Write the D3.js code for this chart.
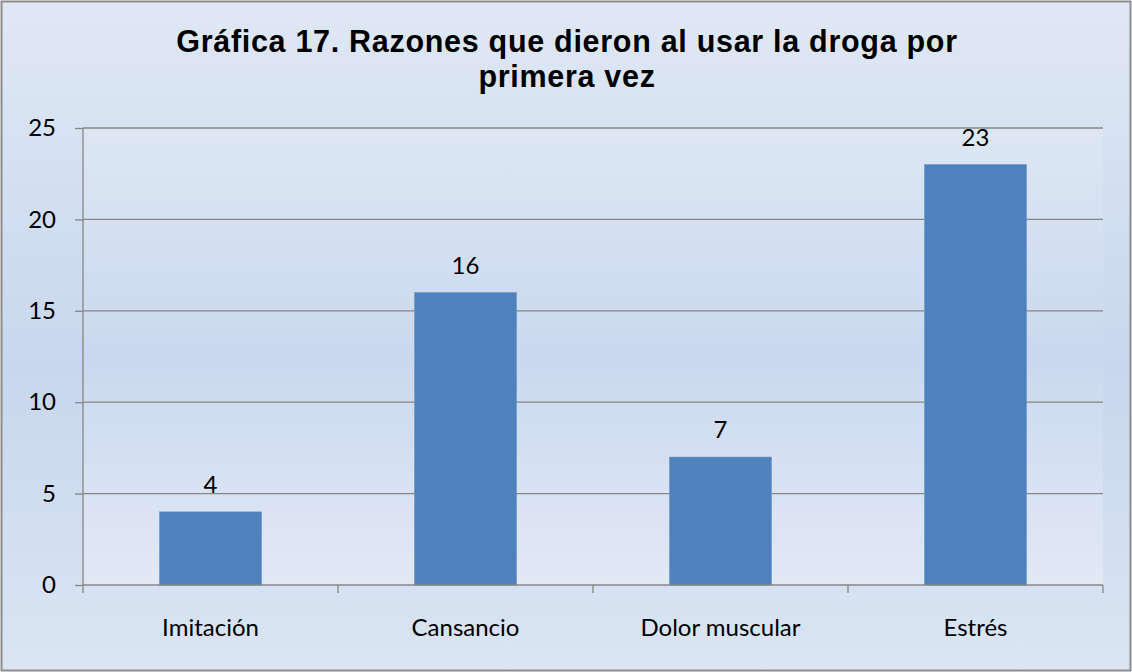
<!DOCTYPE html>
<html><head><meta charset="utf-8">
<script src="https://cdn.jsdelivr.net/npm/d3@7"></script>
<style>body{margin:0;background:#fff}svg{display:block}</style>
</head><body>
<script>
const categories = ["Imitación", "Cansancio", "Dolor muscular", "Estrés"];
const values = [4, 16, 7, 23];
const yTicks = [0, 5, 10, 15, 20, 25];
const titleLines = ["Gráfica 17. Razones que dieron al usar la droga por", "primera vez"];

const W = 1132, H = 672;
const m = {left: 83, right: 29, top: 128, bottom: 87};
const FONT = "Lato, 'Open Sans', sans-serif";
const svg = d3.select("body").append("svg").attr("width", W).attr("height", H);
const defs = svg.append("defs");
const g1 = defs.append("linearGradient").attr("id", "bg").attr("x1", 0).attr("y1", 0).attr("x2", 0).attr("y2", 1);
g1.append("stop").attr("offset", "0%").attr("stop-color", "#dfe8f4");
g1.append("stop").attr("offset", "55%").attr("stop-color", "#c8d7ee");
g1.append("stop").attr("offset", "100%").attr("stop-color", "#dbe5f2");
const g2 = defs.append("linearGradient").attr("id", "pbg").attr("x1", 0).attr("y1", 0).attr("x2", 0).attr("y2", 1);
g2.append("stop").attr("offset", "0%").attr("stop-color", "#dde7f3");
g2.append("stop").attr("offset", "50%").attr("stop-color", "#cad8ef");
g2.append("stop").attr("offset", "100%").attr("stop-color", "#e1e9f5");

svg.append("rect").attr("x", 1.5).attr("y", 1.5).attr("width", W - 3).attr("height", H - 3)
  .attr("fill", "url(#bg)").attr("stroke", "#8c8c8c").attr("stroke-width", 2);

const pw = W - m.left - m.right, ph = H - m.top - m.bottom;
const x = d3.scaleBand().domain(categories).range([m.left, m.left + pw]).paddingInner(0.6).paddingOuter(0.3);
const xb = d3.scaleBand().domain(categories).range([m.left, m.left + pw]);
const y = d3.scaleLinear().domain([0, 25]).range([m.top + ph, m.top]);

svg.append("rect").attr("x", m.left).attr("y", m.top).attr("width", pw).attr("height", ph).attr("fill", "url(#pbg)");

// gridlines
svg.append("g").selectAll("line").data(yTicks.filter(d => d > 0)).join("line")
  .attr("x1", m.left).attr("x2", m.left + pw).attr("y1", d => y(d)).attr("y2", d => y(d))
  .attr("stroke", "#868686").attr("stroke-width", 1.3);

// bars
svg.append("g").selectAll("rect").data(values).join("rect")
  .attr("x", (d, i) => x(categories[i])).attr("width", x.bandwidth())
  .attr("y", d => y(d)).attr("height", d => y(0) - y(d))
  .attr("fill", "#4f81bd").attr("stroke", "#6a95c8").attr("stroke-width", 0.6);

// value labels
svg.append("g").selectAll("text").data(values).join("text")
  .attr("x", (d, i) => x(categories[i]) + x.bandwidth() / 2).attr("y", d => y(d) - 19)
  .attr("text-anchor", "middle").attr("font-family", FONT).attr("font-size", 24)
  .attr("fill", "#000").text(d => d);

// y axis
const yAxis = d3.axisLeft(y).tickValues(yTicks).tickSize(8).tickPadding(19);
const ya = svg.append("g").attr("transform", `translate(${m.left},0)`).call(yAxis);
ya.select(".domain").attr("stroke", "#868686").attr("stroke-width", 1.3).attr("d", `M0,${m.top}V${m.top + ph}`);
ya.selectAll(".tick line").attr("stroke", "#868686").attr("stroke-width", 1.3);
ya.selectAll("text").attr("font-family", FONT).attr("font-size", 24).attr("fill", "#000");

// x axis
const xAxis = d3.axisBottom(xb).tickSize(0).tickPadding(34);
const xa = svg.append("g").attr("transform", `translate(0,${m.top + ph})`).call(xAxis);
xa.select(".domain").attr("stroke", "#868686").attr("stroke-width", 1.3).attr("d", `M${m.left},0H${m.left + pw}`);
xa.selectAll("text").attr("font-family", FONT).attr("font-size", 24).attr("fill", "#000");
const bounds = categories.map(c => xb(c)).concat([m.left + pw]);
xa.append("g").selectAll("line").data(bounds).join("line")
  .attr("x1", d => d).attr("x2", d => d).attr("y1", 0).attr("y2", 8)
  .attr("stroke", "#868686").attr("stroke-width", 1.3);

// title
svg.append("g").selectAll("text").data(titleLines).join("text")
  .attr("x", 567).attr("y", (d, i) => 52 + i * 35).attr("text-anchor", "middle")
  .attr("font-family", "'Liberation Sans', Arial, sans-serif").attr("font-weight", "bold").attr("font-size", 30.5)
  .attr("letter-spacing", 0.7)
  .attr("fill", "#000").text(d => d);
</script>
</body></html>
